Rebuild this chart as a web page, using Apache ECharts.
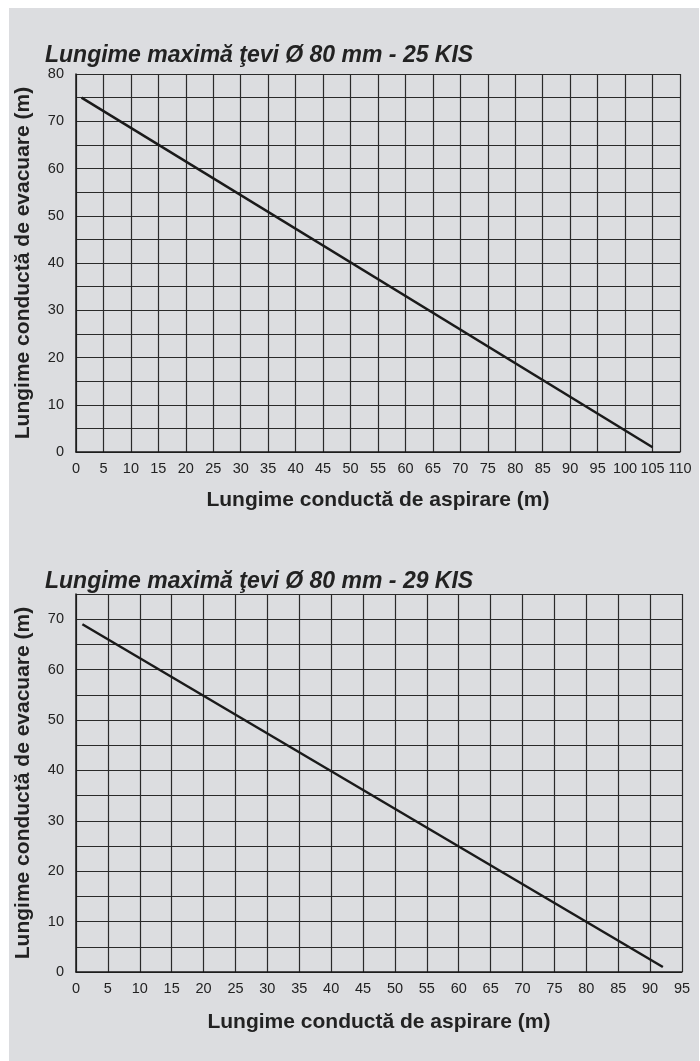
<!DOCTYPE html>
<html>
<head>
<meta charset="utf-8">
<script src="https://cdn.jsdelivr.net/npm/echarts@6/dist/echarts.min.js"></script>
<style>
html,body{margin:0;padding:0;background:#fff;}
#c{width:700px;height:1061px;}
</style>
</head>
<body>
<div id="c"></div>
<script>
// Data
const titles = ['Lungime maximă ţevi Ø 80 mm - 25 KIS', 'Lungime maximă ţevi Ø 80 mm - 29 KIS'];
const xName = 'Lungime conductă de aspirare (m)';
const yName = 'Lungime conductă de evacuare (m)';
const chart1X = [1, 105];
const chart1Y = [75, 1];
const chart2X = [1, 92];
const chart2Y = [69, 1];
const chart1XMax = 110, chart1YMax = 80;
const chart2XMax = 95, chart2YMax = 75;

const TICK_FONT = "'Liberation Sans Narrow','Liberation Sans',Arial,sans-serif";
const FONT = "'Liberation Sans',Arial,sans-serif";
const TXT = '#222';

function pairs(xs, ys){ return xs.map((x,i)=>[x, ys[i]]); }

function xAxis(gi, max, gap){
  return {
    type:'value', gridIndex:gi, min:0, max:max, interval:5,
    name:xName, nameLocation:'middle', nameGap:gap,
    nameTextStyle:{fontFamily:FONT, fontWeight:'bold', fontSize:21, color:TXT},
    axisLine:{show:true, lineStyle:{color:'#1a1a1a', width:1.5}},
    axisTick:{show:false},
    axisLabel:{fontFamily:TICK_FONT, fontSize:14.5, color:TXT, margin:9},
    splitLine:{show:true, lineStyle:{color:'#2a2a2a', width:1.2}}
  };
}
function yAxis(gi, max){
  return {
    type:'value', gridIndex:gi, min:0, max:max, interval:5,
    name:yName, nameLocation:'middle', nameRotate:90, nameGap:42,
    nameTextStyle:{fontFamily:FONT, fontWeight:'bold', fontSize:21, color:TXT},
    axisLine:{show:true, lineStyle:{color:'#1a1a1a', width:1.5}},
    axisTick:{show:false},
    axisLabel:{fontFamily:TICK_FONT, fontSize:14.5, color:TXT, margin:12,
      formatter: v => (v % 10 === 0 ? String(v) : '')},
    splitLine:{show:true, lineStyle:{color:'#2a2a2a', width:1.2}}
  };
}

const chart = echarts.init(document.getElementById('c'), null, {renderer:'canvas'});
chart.setOption({
  animation:false,
  graphic:[{type:'rect', shape:{x:9, y:8, width:690, height:1053}, style:{fill:'#dcdde0'}, z:-10}],
  title:[
    {text:titles[0], left:40, top:39, textStyle:{fontFamily:FONT, fontStyle:'italic', fontWeight:'bold', fontSize:23, color:TXT}},
    {text:titles[1], left:40, top:565, textStyle:{fontFamily:FONT, fontStyle:'italic', fontWeight:'bold', fontSize:23, color:TXT}}
  ],
  grid:[
    {left:76, top:74, width:604, height:378},
    {left:76, top:594, width:606, height:378}
  ],
  xAxis:[xAxis(0, chart1XMax, 38), xAxis(1, chart2XMax, 40)],
  yAxis:[yAxis(0, chart1YMax), yAxis(1, chart2YMax)],
  series:[
    {type:'line', xAxisIndex:0, yAxisIndex:0, data:pairs(chart1X, chart1Y), symbol:'none',
     lineStyle:{color:'#1a1a1a', width:2.5}},
    {type:'line', xAxisIndex:1, yAxisIndex:1, data:pairs(chart2X, chart2Y), symbol:'none',
     lineStyle:{color:'#1a1a1a', width:2.5}}
  ]
});
</script>
</body>
</html>
